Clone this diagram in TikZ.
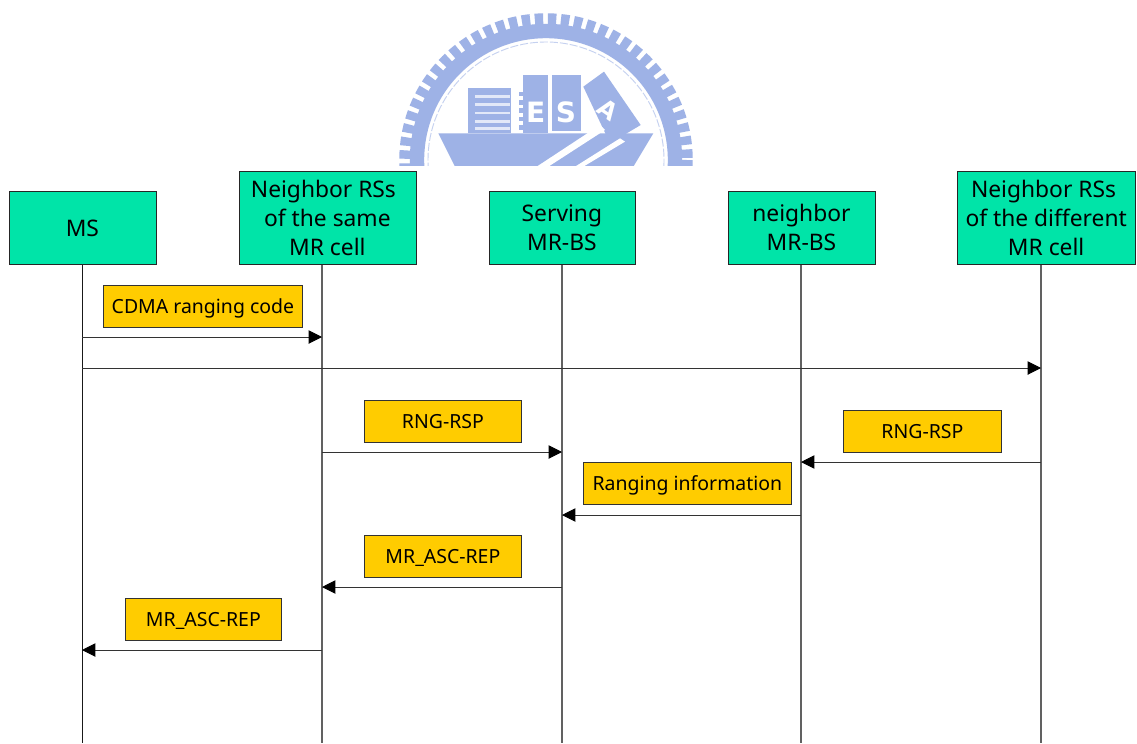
\documentclass[tikz,border=0pt]{standalone}
\usepackage{fontspec}
\setmainfont{Noto Sans}
\newfontfamily\logofont{DejaVu Sans}
\usetikzlibrary{arrows.meta}
\definecolor{boxgreen}{RGB}{0,228,168}
\definecolor{boxgold}{RGB}{255,204,0}
\definecolor{logoblue}{RGB}{158,178,230}
\tikzset{
  x=0.75pt,y=-0.75pt,
  actor/.style={draw=black!85,line width=0.6pt,fill=boxgreen,anchor=north west,inner sep=0pt,align=center,font=\fontsize{17.1}{21.8}\selectfont},
  msg/.style={draw=black!80,line width=0.6pt,fill=boxgold,anchor=north west,inner sep=0pt,align=center,font=\fontsize{14.6}{18}\selectfont},
  life/.style={draw=black!62,line width=0.8pt},
  lifedark/.style={draw=black!90,line width=0.7pt},
  arrowline/.style={draw=black!80,line width=0.7pt,-{Triangle[length=10pt,width=10pt,black]}},
  logoletter/.style={white,font=\logofont\bfseries\fontsize{21}{21}\selectfont},
}
\newcommand{\actorbox}[6]{\node[actor,minimum width=#3*0.75pt,minimum height=#4*0.75pt] (#5) at (#1,#2) {#6};}
\newcommand{\msgbox}[6]{\node[msg,minimum width=#3*0.75pt,minimum height=#4*0.75pt] (#5) at (#1,#2) {\raisebox{-5.6pt}[0pt][0pt]{#6}};}
\begin{document}
\begin{tikzpicture}
\useasboundingbox (0,0) rectangle (1137,743);
\fill[white] (0,0) rectangle (1137,743);
% logo (clipped at y=165)
\begin{scope}
\clip (380,0) rectangle (710,165.5);
\draw[logoblue,line width=8.6pt,dash pattern=on 6.3pt off 3.5pt] (546,160) circle (141);
\draw[logoblue,line width=10.8pt] (546,160) circle (129);
\draw[logoblue!60,line width=0.7pt,dash pattern=on 6pt off 1.5pt] (546,160) circle (118);
\begin{scope}[shift={(380,0)},x=0.25pt,y=-0.25pt]
  \fill[logoblue] (175,400) -- (820,400) -- (760,500) -- (225,500) -- cycle;
  \fill[logoblue] (265,265) rectangle (392,400);
  \foreach \yy in {285,310,335,360,382}
    \fill[white!70!logoblue] (285,\yy) rectangle (390,\yy+8);
  \foreach \yy in {275,300,325,350,375}
    \fill[logoblue] (418,\yy) rectangle (430,\yy+14);
  \fill[logoblue] (430,225) rectangle (505,398);
  \fill[logoblue] (515,225) rectangle (603,392);
  \fill[logoblue] (610,260) -- (672,215) -- (782,375) -- (690,430) -- cycle;
  \fill[white] (660,375) -- (675,390) -- (505,500) -- (470,500) -- cycle;
  \fill[white] (720,415) -- (735,425) -- (610,500) -- (585,500) -- cycle;
  \node[logoletter] at (467,337) {E};
  \node[logoletter] at (558,337) {S};
  \node[logoletter,rotate=-35,font=\logofont\bfseries\fontsize{18}{18}\selectfont] at (685,330) {A};
\end{scope}
\end{scope}
% lifeline positions
\coordinate (lms) at (82,264);
\coordinate (lrs) at (322,264);
\coordinate (lsv) at (562,264);
\coordinate (lnb) at (801,264);
\coordinate (ldf) at (1041,264);
\coordinate (bot) at (0,743);
\draw[lifedark] (lms) -- (lms |- bot);
\foreach \l in {lrs,lsv,lnb,ldf} \draw[life] (\l) -- (\l |- bot);
% actors
\actorbox{8.5}{191}{147}{73}{ms}{MS}
\actorbox{238.5}{171}{177}{93}{rs}{Neighbor RSs\hspace*{6pt}\\of the same\hspace*{9pt}\\MR cell}
\actorbox{488.5}{191}{146}{73}{sv}{Serving\\MR-BS}
\actorbox{727.5}{191}{147}{73}{nb}{neighbor\\MR-BS}
\actorbox{957}{171}{177.5}{93}{df}{Neighbor RSs\hspace*{4pt}\\of the different\hspace*{8pt}\\MR cell}
% messages
\msgbox{103}{285}{199}{42}{m1}{CDMA ranging code}
\msgbox{364}{400}{157}{42}{m2}{RNG-RSP}
\msgbox{843}{410}{158}{42}{m3}{RNG-RSP}
\msgbox{583}{462}{208}{42}{m4}{Ranging information}
\msgbox{364}{535}{157}{42}{m5}{MR\_ASC-REP}
\msgbox{125}{598}{156}{42}{m6}{MR\_ASC-REP}
% arrows
\coordinate (y1) at (0,337);
\coordinate (y2) at (0,368);
\coordinate (y3) at (0,452);
\coordinate (y4) at (0,462);
\coordinate (y5) at (0,515);
\coordinate (y6) at (0,587);
\coordinate (y7) at (0,650);
\draw[arrowline] (lms |- y1) -- (lrs |- y1);
\draw[arrowline] (lms |- y2) -- (ldf |- y2);
\draw[arrowline] (lrs |- y3) -- (lsv |- y3);
\draw[arrowline] (ldf |- y4) -- (lnb |- y4);
\draw[arrowline] (lnb |- y5) -- (lsv |- y5);
\draw[arrowline] (lsv |- y6) -- (lrs |- y6);
\draw[arrowline] (lrs |- y7) -- (lms |- y7);
\end{tikzpicture}
\end{document}
